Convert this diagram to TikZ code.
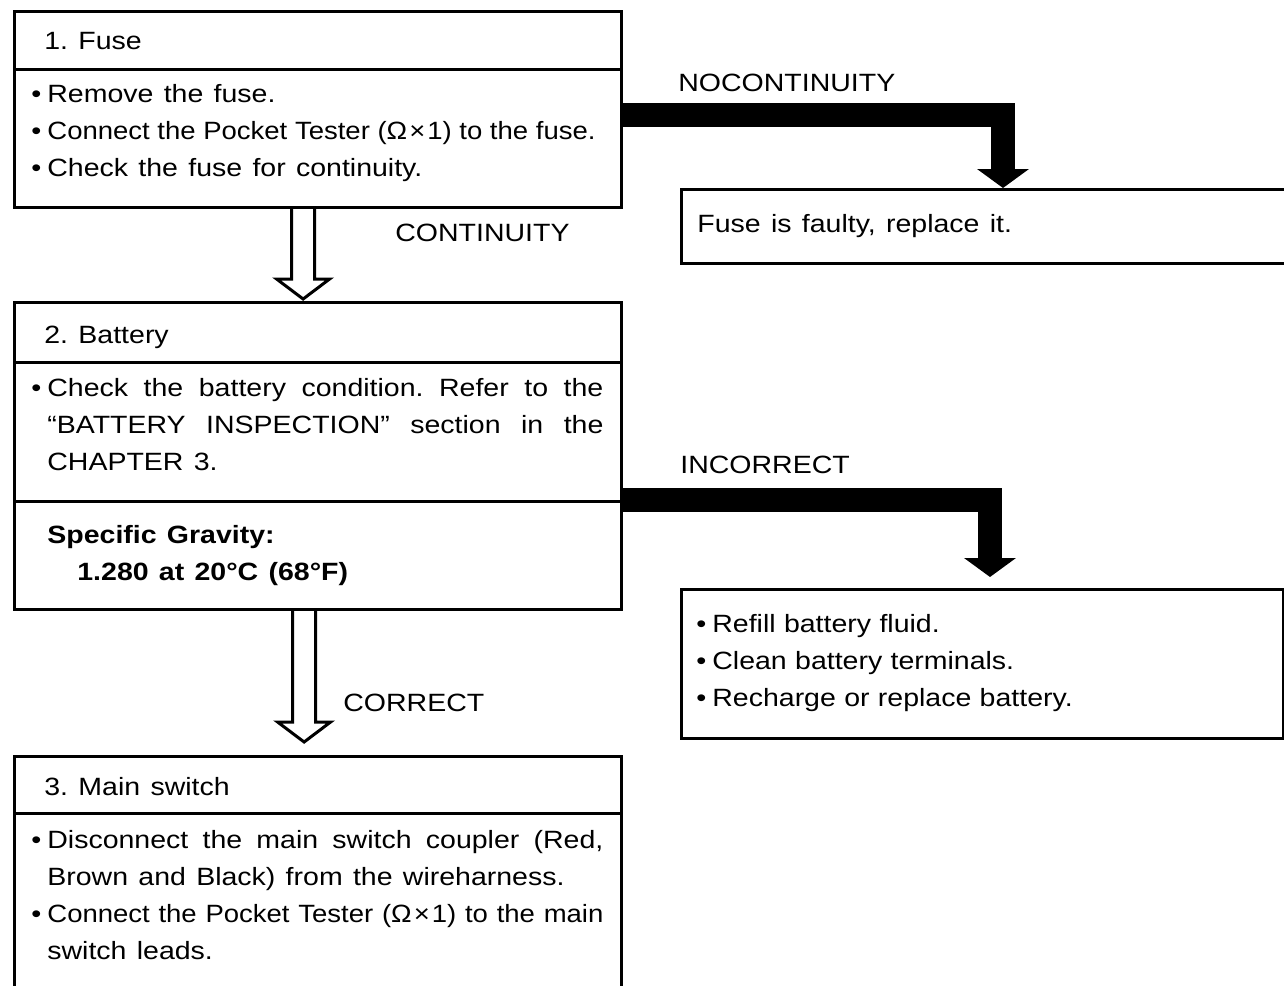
\documentclass[tikz,border=0pt]{standalone}
\usepackage{fontspec}
\setmainfont{Liberation Sans}[FakeStretch=1.14, WordSpace=1.3]
\newfontfamily\tightfont{Liberation Sans}[FakeStretch=1.1]
\usetikzlibrary{arrows.meta,calc}
\newcommand{\chartfont}{\fontsize{12.5}{18.5}\selectfont\frenchspacing}
\newcommand{\dotitem}{\leavevmode\llap{•\kern3pt}}
\tikzset{
	box/.style 2 args={draw, line width=1.6pt, anchor=north west, inner sep=0pt,
		minimum width=#1*0.5pt, minimum height=#2*0.5pt},
	txt/.style={anchor=base west, inner sep=0pt},
	boldtxt/.style={txt, font=\chartfont\bfseries},
	para/.style={txt, text width=278pt, align=justify},
	bigarrow/.style={line width=12pt, -{Triangle[width=25.5pt,length=9.5pt]}},
}
\begin{document}
\begin{tikzpicture}[x=0.5pt,y=-0.5pt,font=\chartfont]
	\useasboundingbox (0,0) rectangle (1284,985);
	\clip (0,0) rectangle (1284,985);
	\def\hollow(#1)(#2){\draw[line width=1.5pt, fill=white]
		([xshift=-5.75pt]#1) -- ([xshift=-5.75pt,yshift=10pt]#2) -- ([xshift=-13.25pt,yshift=10pt]#2)
		-- (#2) -- ([xshift=13.25pt,yshift=10pt]#2) -- ([xshift=5.75pt,yshift=10pt]#2) -- ([xshift=5.75pt]#1);}
	%Khung bên trái:
	\node[box={607}{58}] (fuseHead) at (13,10) {};
	\node[box={607}{138}] (fuseBody) at (13,68) {};
	\node[box={607}{60}] (batHead) at (13,301) {};
	\node[box={607}{139}] (batBody) at (13,361) {};
	\node[box={607}{108}] (batSpec) at (13,500) {};
	\node[box={607}{57}] (swHead) at (13,755) {};
	\node[box={607}{220}] (swBody) at (13,812) {};
	%Khung bên phải:
	\node[box={630}{74}] (faultyBox) at (680,188) {};
	\node[box={602}{149}] (fixBox) at (680,588) {};
	%Chữ:
	\node[txt] (fuseTitle) at (44,49) {1. Fuse};
	\node[para] (fuseSteps) at (47,102) {\dotitem Remove the fuse.\\
		\dotitem{\tightfont Connect the Pocket Tester (Ω\kern1pt×\kern1pt1) to the fuse.}\\
		\dotitem Check the fuse for continuity.};
	\node[txt] (batTitle) at (44,343) {2. Battery};
	\node[para] (batSteps) at (47,396) {\dotitem Check the battery condition. Refer to the\linebreak
		“BATTERY INSPECTION” section in the\linebreak CHAPTER 3.};
	\node[boldtxt] (specName) at (47,543) {Specific Gravity:};
	\node[boldtxt] (specValue) at (77,580) {1.280 at 20°C (68°F)};
	\node[txt] (swTitle) at (44,795) {3. Main switch};
	\node[para] (swSteps) at (47,848) {\dotitem Disconnect the main switch coupler (Red,\linebreak
		Brown and Black) from the wireharness.\\
		\dotitem{\tightfont Connect the Pocket Tester (Ω\kern1pt×\kern1pt1) to the main}\linebreak switch leads.};
	\node[txt] (faultyText) at (697,232) {Fuse is faulty, replace it.};
	\node[para, align=left] (fixSteps) at (712,632) {\dotitem Refill battery fluid.\\
		\dotitem Clean battery terminals.\\
		\dotitem Recharge or replace battery.};
	\node[txt] (noContLabel) at (678,91) {NOCONTINUITY};
	\node[txt] (contLabel) at (395,241) {CONTINUITY};
	\node[txt] (badLabel) at (680,473) {INCORRECT};
	\node[txt] (goodLabel) at (343,711) {CORRECT};
	%Mũi tên:
	\coordinate (noTip) at ([xshift=161.5pt]faultyBox.north west);
	\draw[bigarrow] ([yshift=12pt]fuseBody.east) -| (noTip);
	\coordinate (badTip) at ([xshift=155pt,yshift=5.5pt]fixBox.north west);
	\draw[bigarrow] (batSpec.north east) -| (badTip);
	\coordinate (contTip) at ([xshift=-7.5pt,yshift=1pt]batHead.north);
	\coordinate (contTop) at (contTip |- fuseBody.south);
	\hollow(contTop)(contTip)
	\coordinate (goodTip) at ([xshift=-7pt,yshift=6.5pt]swHead.north);
	\coordinate (goodTop) at (goodTip |- batSpec.south);
	\hollow(goodTop)(goodTip)
\end{tikzpicture}
\end{document}
